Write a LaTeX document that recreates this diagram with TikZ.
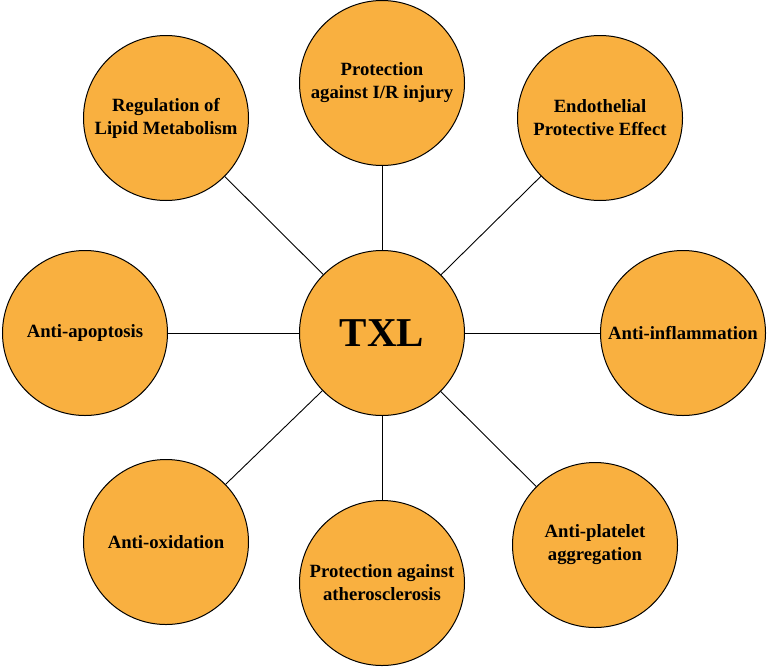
\documentclass[tikz,border=0pt]{standalone}
\usepackage{fontspec}
\setmainfont{Liberation Serif}
\definecolor{bub}{RGB}{249,176,64}
\begin{document}
\begin{tikzpicture}[x=1pt,y=-1pt,
  bubble/.style={circle,draw=black,line width=1pt,fill=bub,minimum size=165pt,inner sep=0pt,align=center,font=\fontsize{18.7}{23}\selectfont\bfseries},
  link/.style={draw=black,line width=0.9pt}]
\useasboundingbox (0,0) rectangle (767,667);
\node[bubble,font=\fontsize{41}{45}\selectfont\bfseries] (c) at (382,333) {TXL};
\node[bubble] (t) at (382,83) {Protection\\against I/R injury};
\node[bubble] (tl) at (166,118) {Regulation of\\Lipid Metabolism};
\node[bubble] (tr) at (600,118) {Endothelial\\Protective Effect};
\node[bubble] (l) at (85,333) {Anti-apoptosis};
\node[bubble] (r) at (683,333) {Anti-inflammation};
\node[bubble] (bl) at (166,542) {Anti-oxidation};
\node[bubble] (b) at (382,583) {Protection against\\atherosclerosis};
\node[bubble] (br) at (595,545) {Anti-platelet\\aggregation};
\foreach \n in {t,tl,tr,l,r,bl,b,br} \path[link] (c) -- (\n);
\end{tikzpicture}
\end{document}
